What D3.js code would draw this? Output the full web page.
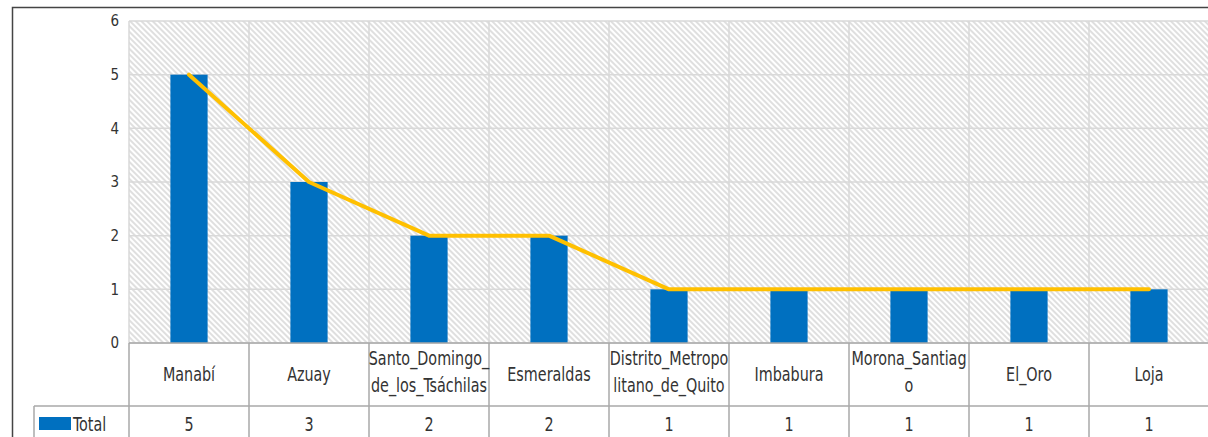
<!DOCTYPE html>
<html>
<head>
<meta charset="utf-8">
<script src="https://cdn.jsdelivr.net/npm/d3@7"></script>
<style>
	body { margin: 0; background: white; }
	svg text { font-family: "DejaVu Sans Condensed", "Liberation Sans Narrow", sans-serif; fill: #333; }
</style>
</head>
<body>
<div id="chart"></div>
<script>
let categories = [
	["Manabí"],
	["Azuay"],
	["Santo_Domingo_", "de_los_Tsáchilas"],
	["Esmeraldas"],
	["Distrito_Metropo", "litano_de_Quito"],
	["Imbabura"],
	["Morona_Santiag", "o"],
	["El_Oro"],
	["Loja"]
];
let totals = [5, 3, 2, 2, 1, 1, 1, 1, 1];
let yTicks = [0, 1, 2, 3, 4, 5, 6];
let seriesName = "Total";

let width = 1208;
let height = 437;

let plot = { left: 129, right: 1209, top: 21, bottom: 343 };
let tableRow1 = 406;
let squeeze = 0.84; // narrow the text a bit, the original font is condensed

let svg = d3.select("#chart")
			.append("svg")
			.attr("width", width)
			.attr("height", height);

let defs = svg.append("defs");
let pat = defs.append("pattern")
	.attr("id", "hatch")
	.attr("patternUnits", "userSpaceOnUse")
	.attr("width", 4)
	.attr("height", 4)
	.attr("patternTransform", "rotate(-45)");
pat.append("rect").attr("width", 4).attr("height", 4).attr("fill", "white");
pat.append("line")
	.attr("x1", 1).attr("y1", 0).attr("x2", 1).attr("y2", 4)
	.attr("stroke", "#d2d2d2")
	.attr("stroke-width", 1.4);

// outer frame
svg.append("rect")
	.attr("x", 12.5)
	.attr("y", 7.5)
	.attr("width", width + 20)
	.attr("height", height + 20)
	.attr("fill", "white")
	.attr("stroke", "#444")
	.attr("stroke-width", 1.5);

let labels = categories.map(d => d.join(""));

let xScale = d3.scaleBand()
				.domain(labels)
				.range([plot.left, plot.right])
				.padding(0);

let yScale = d3.scaleLinear()
				.domain([0, 6])
				.range([plot.bottom, plot.top]);

let cx = i => xScale(labels[i]) + xScale.bandwidth() / 2;

// hatched plot background
svg.append("rect")
	.attr("x", plot.left)
	.attr("y", plot.top)
	.attr("width", plot.right - plot.left)
	.attr("height", plot.bottom - plot.top)
	.attr("fill", "url(#hatch)");

// horizontal grid
svg.append("g")
	.selectAll("line")
	.data(yTicks)
	.enter()
	.append("line")
	.attr("x1", plot.left)
	.attr("x2", plot.right)
	.attr("y1", d => yScale(d))
	.attr("y2", d => yScale(d))
	.attr("stroke", "#d9d9d9")
	.attr("stroke-width", 1.5);

// vertical grid inside plot
svg.append("g")
	.selectAll("line")
	.data(labels)
	.enter()
	.append("line")
	.attr("x1", d => xScale(d))
	.attr("x2", d => xScale(d))
	.attr("y1", plot.top)
	.attr("y2", plot.bottom)
	.attr("stroke", "#d9d9d9")
	.attr("stroke-width", 1.5);

// y axis
let yAxis = svg.append("g")
	.attr("transform", `translate(${plot.left - 10},0)`)
	.call(d3.axisLeft(yScale).tickValues(yTicks).tickFormat(d3.format("d")).tickSize(0).tickPadding(0));
yAxis.select(".domain").remove();
yAxis.selectAll("text")
	.style("font-family", '"DejaVu Sans Condensed", sans-serif')
	.style("font-size", "15px")
	.attr("fill", "#404040");

// bars
let barW = xScale.bandwidth() * 0.31;
svg.append("g")
	.selectAll("rect")
	.data(totals)
	.enter()
	.append("rect")
	.attr("x", (d, i) => cx(i) - barW / 2)
	.attr("y", d => yScale(d))
	.attr("width", barW)
	.attr("height", d => yScale(0) - yScale(d))
	.attr("fill", "#0070c0");

// line
let line = d3.line()
	.x((d, i) => cx(i))
	.y(d => yScale(d));

svg.append("path")
	.datum(totals)
	.attr("d", line)
	.attr("fill", "none")
	.attr("stroke", "#ffc000")
	.attr("stroke-width", 4)
	.attr("stroke-linejoin", "round")
	.attr("stroke-linecap", "round");

// data table
let tableColor = "#a8a8a8";
let table = svg.append("g");

table.append("line")
	.attr("x1", plot.left).attr("x2", plot.right)
	.attr("y1", plot.bottom).attr("y2", plot.bottom)
	.attr("stroke", tableColor).attr("stroke-width", 1.5);
table.append("line")
	.attr("x1", 34).attr("x2", plot.right)
	.attr("y1", tableRow1).attr("y2", tableRow1)
	.attr("stroke", tableColor).attr("stroke-width", 1.5);
table.append("line")
	.attr("x1", 34).attr("x2", 34)
	.attr("y1", tableRow1).attr("y2", height)
	.attr("stroke", tableColor).attr("stroke-width", 1.5);

table.selectAll(".vline")
	.data(labels)
	.enter()
	.append("line")
	.attr("x1", d => xScale(d))
	.attr("x2", d => xScale(d))
	.attr("y1", plot.bottom)
	.attr("y2", height)
	.attr("stroke", tableColor)
	.attr("stroke-width", 1.5);

let catText = table.selectAll(".cat")
	.data(categories)
	.enter()
	.append("text")
	.attr("text-anchor", "middle")
	.style("font-size", "19px")
	.attr("transform", (d, i) => `translate(${cx(i)},${d.length > 1 ? 365 : 381}) scale(${squeeze},1)`);

catText.selectAll("tspan")
	.data(d => d)
	.enter()
	.append("tspan")
	.attr("x", 0)
	.attr("dy", (d, i) => i === 0 ? 0 : 27)
	.text(d => d);

table.selectAll(".val")
	.data(totals)
	.enter()
	.append("text")
	.attr("text-anchor", "middle")
	.style("font-size", "19px")
	.attr("transform", (d, i) => `translate(${cx(i)},431) scale(${squeeze},1)`)
	.text(d => d);

// legend key in table
table.append("rect")
	.attr("x", 39)
	.attr("y", 417)
	.attr("width", 32)
	.attr("height", 13)
	.attr("fill", "#0070c0");
table.append("text")
	.attr("transform", `translate(73,431) scale(${squeeze},1)`)
	.style("font-size", "19px")
	.text(seriesName);
</script>
</body>
</html>
